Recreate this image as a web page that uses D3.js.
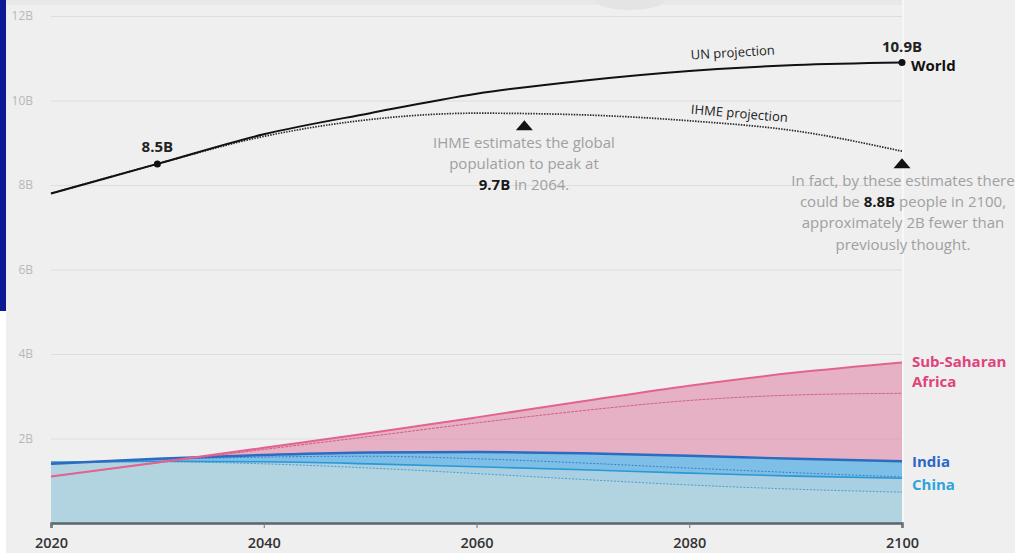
<!DOCTYPE html>
<html><head><meta charset="utf-8">
<script src="https://cdn.jsdelivr.net/npm/d3@7"></script>
<style>
html,body{margin:0;padding:0;background:#fff;}
svg{display:block;font-family:"Open Sans",sans-serif;}
</style></head><body>
<svg id="c" width="1015" height="553"></svg>
<script>
const years = [2020,2030,2040,2050,2060,2070,2080,2090,2100];
const worldUN = [7.8,8.5,9.2,9.7,10.16,10.47,10.7,10.84,10.9];
const worldIHME = [7.8,8.5,9.15,9.55,9.7,9.66,9.52,9.28,8.8];
const ssaUN = [1.1,1.43,1.78,2.13,2.5,2.88,3.25,3.56,3.8];
const ssaIHME = [1.1,1.42,1.74,2.05,2.37,2.66,2.9,3.03,3.07];
const indiaUN = [1.4,1.52,1.61,1.67,1.68,1.65,1.59,1.52,1.46];
const indiaIHME = [1.4,1.5,1.56,1.58,1.52,1.42,1.3,1.19,1.09];
const chinaUN = [1.44,1.46,1.45,1.4,1.33,1.26,1.18,1.11,1.06];
const chinaIHME = [1.43,1.45,1.4,1.3,1.17,1.03,0.9,0.8,0.73];
const yTicks = [2,4,6,8,10,12];
const xTicks = [2020,2040,2060,2080,2100];
const worldPoints = [[2030,8.5,"8.5B"],[2100,10.9,"10.9B"]];
const peakIHME = [2064.5,9.7];
const endIHME = [2100,8.8];

const svg = d3.select("#c");
const W = 1015, H = 553;
const x = d3.scaleLinear().domain([2020,2100]).range([51,902]);
const y = d3.scaleLinear().domain([0,12]).range([523,16]);

// background
svg.append("rect").attr("x",0).attr("y",0).attr("width",W).attr("height",H).attr("fill","#ffffff");
svg.append("rect").attr("x",6).attr("y",0).attr("width",W-6).attr("height",H).attr("fill","#efefef");
svg.append("rect").attr("x",0).attr("y",0).attr("width",6).attr("height",311).attr("fill","#0b1a94");
svg.append("rect").attr("x",6).attr("y",0).attr("width",897).attr("height",5).attr("fill","#e8e8e8");
svg.append("ellipse").attr("cx",630).attr("cy",1).attr("rx",34).attr("ry",9).attr("fill","#e4e4e4");
svg.append("line").attr("x1",903).attr("x2",903).attr("y1",0).attr("y2",523).attr("stroke","#f7f7f7").attr("stroke-width",2);

// grid + y labels
const gy = svg.append("g").attr("transform",`translate(${x(2020)},0)`)
  .call(d3.axisLeft(y).tickValues(yTicks).tickSize(-(x(2100)-x(2020))).tickPadding(18).tickFormat(d=>d+"B"));
gy.select(".domain").remove();
gy.selectAll(".tick line").attr("stroke","#dddddd").attr("stroke-width",1);
gy.selectAll(".tick text").attr("fill","#b8b8b8").attr("font-size",12).attr("font-family","Open Sans");

const idx = d3.range(years.length);
const curve = d3.curveMonotoneX;
const area = arr => d3.area().x(i=>x(years[i])).y0(y(0)).y1(i=>y(arr[i])).curve(curve)(idx);
const line = arr => d3.line().x(i=>x(years[i])).y(i=>y(arr[i])).curve(curve)(idx);

// areas
svg.append("path").attr("d",area(ssaUN)).attr("fill","#e0749b").attr("fill-opacity",0.5);
svg.append("path").attr("d",area(indiaUN)).attr("fill","#7dbfe6");
svg.append("path").attr("d",area(chinaUN)).attr("fill","#a8cfe2");
svg.append("path").attr("d",area(chinaIHME)).attr("fill","#b2d3e0");

// regional lines
svg.append("path").attr("d",line(chinaIHME)).attr("fill","none").attr("stroke","#4d9fcf").attr("stroke-width",1).attr("stroke-dasharray","2,1.5");
svg.append("path").attr("d",line(indiaIHME)).attr("fill","none").attr("stroke","#3a7fcc").attr("stroke-width",1).attr("stroke-dasharray","2,1.5");
svg.append("path").attr("d",line(chinaUN)).attr("fill","none").attr("stroke","#2a97d6").attr("stroke-width",1.6);
svg.append("path").attr("d",line(indiaUN)).attr("fill","none").attr("stroke","#2d6bc0").attr("stroke-width",2.4);
svg.append("path").attr("d",line(ssaIHME)).attr("fill","none").attr("stroke","#cf5f88").attr("stroke-width",1).attr("stroke-dasharray","3,1");
svg.append("path").attr("d",line(ssaUN)).attr("fill","none").attr("stroke","#e3628f").attr("stroke-width",2);

// x axis
const gx = svg.append("g").attr("transform",`translate(0,${y(0)})`)
  .call(d3.axisBottom(x).tickValues(xTicks).tickSize(5).tickFormat(d3.format("d")));
gx.select(".domain").attr("stroke","#59666c").attr("stroke-width",2.5);
gx.selectAll(".tick line").attr("stroke","#777").attr("stroke-width",1);
gx.selectAll(".tick text").attr("fill","#333").attr("font-size",14.5).attr("font-weight",600)
  .attr("font-family","Open Sans").attr("y",25).attr("dy",0);

// world lines
svg.append("path").attr("d",line(worldIHME)).attr("fill","none").attr("stroke","#2a2a2a").attr("stroke-width",1.7).attr("stroke-dasharray","1.5,1.2");
svg.append("path").attr("d",line(worldUN)).attr("fill","none").attr("stroke","#111").attr("stroke-width",2);

svg.selectAll("circle.wp").data(worldPoints).join("circle").attr("class","wp")
  .attr("cx",d=>x(d[0])).attr("cy",d=>y(d[1])).attr("r",3.5).attr("fill","#111");
svg.append("text").attr("x",x(2030)).attr("y",y(8.5)-12).attr("text-anchor","middle")
  .attr("font-size",15).attr("font-weight",700).attr("fill","#222").text(worldPoints[0][2]);
svg.append("text").attr("x",x(2100)).attr("y",y(10.9)-10).attr("text-anchor","middle")
  .attr("font-size",15).attr("font-weight",700).attr("fill","#222").text(worldPoints[1][2]);
svg.append("text").attr("x",x(2100)+9).attr("y",y(10.9)+9).attr("text-anchor","start")
  .attr("font-size",15).attr("font-weight",700).attr("fill","#111").text("World");

svg.append("text").attr("transform",`translate(733,57) rotate(-3.5)`).attr("text-anchor","middle")
  .attr("font-size",13).attr("fill","#222").text("UN projection");
svg.append("text").attr("transform",`translate(739,118) rotate(5)`).attr("text-anchor","middle")
  .attr("font-size",13).attr("fill","#222").text("IHME projection");

// triangles
function tri(cx, top){
  const p = d3.path(); p.moveTo(cx, top); p.lineTo(cx+8.5, top+10); p.lineTo(cx-8.5, top+10); p.closePath(); return p.toString();
}
svg.append("path").attr("d",tri(x(peakIHME[0]), y(peakIHME[1])+7)).attr("fill","#111");
svg.append("path").attr("d",tri(x(endIHME[0]), y(endIHME[1])+7)).attr("fill","#111");

function note(cx, y0, lines){
  const t = svg.append("text").attr("text-anchor","middle").attr("font-size",15).attr("fill","#a0a0a0");
  lines.forEach((ln,i)=>{
    const ts = t.append("tspan").attr("x",cx).attr("y",y0+i*21.2);
    ln.forEach(seg=>{
      const s = ts.append("tspan").text(seg[0]);
      if(seg[1]) s.attr("font-weight",700).attr("fill","#1a1a1a");
    });
  });
}
note(524,148,[[["IHME estimates the global"]],[["population to peak at"]],[["9.7B",1],[" in 2064."]]]);
note(903,186,[[["In fact, by these estimates there"]],[["could be "],["8.8B",1],[" people in 2100,"]],[["approximately 2B fewer than"]],[["previously thought."]]]);

// region labels
const lab = (txt, yy, col) => svg.append("text").attr("x",912).attr("y",yy).attr("font-size",15)
  .attr("font-weight",700).attr("fill",col).text(txt);
lab("Sub-Saharan",367,"#e0437c");
lab("Africa",387,"#e0437c");
lab("India",467,"#2b67c4");
lab("China",490,"#2fa3dc");
</script>
</body></html>
